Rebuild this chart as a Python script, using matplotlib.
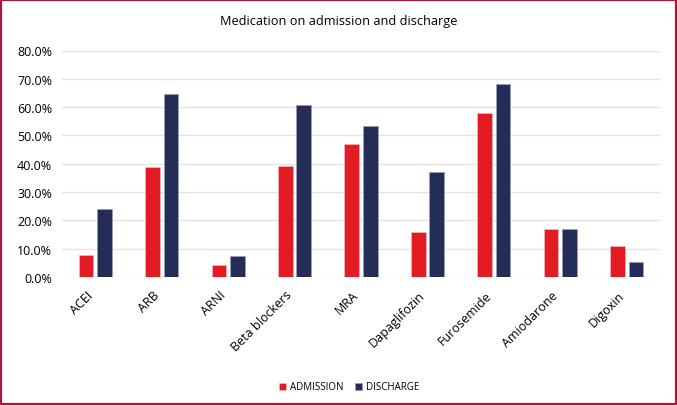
import numpy as np
from matplotlib import pyplot as plt
from matplotlib.patches import Rectangle
from matplotlib.ticker import FuncFormatter

plt.rcParams['font.family'] = ['Open Sans', 'DejaVu Sans']

drugs = ['ACEI', 'ARB', 'ARNI', 'Beta blockers', 'MRA', 'Dapaglifozin',
         'Furosemide', 'Amiodarone', 'Digoxin']
admission = [7.8, 38.9, 4.1, 39.1, 47.1, 16.0, 57.8, 17.1, 11.0]
discharge = [24.1, 64.5, 7.5, 60.9, 53.5, 37.2, 68.0, 17.1, 5.4]

red = '#E31B23'
navy = '#232D57'

fig = plt.figure(figsize=(6.77, 4.06), dpi=100)
ax = fig.add_axes([62/677, 1-278/406, (660-62)/677, (278-51.5)/406])

x = np.arange(len(drugs))
w = 0.22
ax.bar(x - 0.139, admission, w, color=red, edgecolor='#f2b8bb', linewidth=0.5,
       label='ADMISSION', zorder=3)
ax.bar(x + 0.139, discharge, w, color=navy, edgecolor='#9aa0b8', linewidth=0.5,
       label='DISCHARGE', zorder=3)

ax.set_xlim(-0.5, len(drugs) - 0.5)
ax.set_ylim(0, 80)
ax.set_yticks(np.arange(0, 81, 10))
ax.yaxis.set_major_formatter(FuncFormatter(lambda v, p: f'{v:.1f}%'))
ax.grid(axis='y', color='#e3e3e3', linewidth=1, zorder=0)
for s in ax.spines.values():
    s.set_visible(False)
ax.tick_params(axis='both', length=0, labelsize=9, colors='black')
ax.tick_params(axis='y', pad=7)
ax.tick_params(axis='x', pad=8)
ax.set_xticks(x)
ax.set_xticklabels(drugs, rotation=45, ha='right')

fig.text(0.5, 1 - 22/406, 'Medication on admission and discharge',
         ha='center', va='center', fontsize=9.2)

fig.legend(loc='center', bbox_to_anchor=(349/677, 1 - 388/406), ncol=2,
           frameon=False, fontsize=7, handlelength=0.7, handleheight=0.7,
           handletextpad=0.4, columnspacing=1.2, borderpad=0)

fig.patches.append(Rectangle((0, 0), 1, 1, transform=fig.transFigure,
                             fill=False, edgecolor='#B0123F', linewidth=3))

fig.savefig('out.png', dpi=100)
